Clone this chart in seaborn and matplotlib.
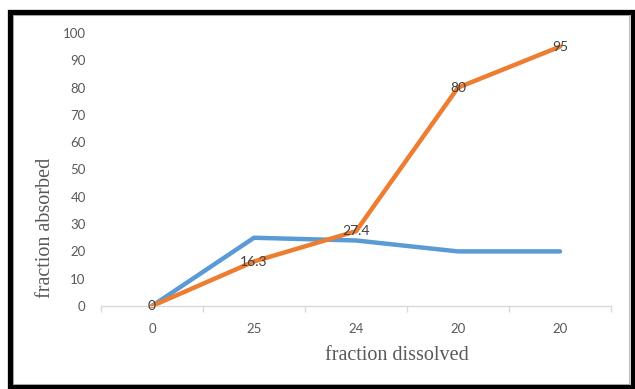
import matplotlib
matplotlib.use("Agg")
import matplotlib.pyplot as plt
from matplotlib.patches import Rectangle
import numpy as np
import pandas as pd
import seaborn as sns

# Category labels along the x axis (the dissolved fractions)
dissolved_labels = ["0", "25", "24", "20", "20"]
# Series values
series_a = [0, 25, 24, 20, 20]
series_b = [0, 16.3, 27.4, 80, 95]
yticks = [0, 10, 20, 30, 40, 50, 60, 70, 80, 90, 100]

blue = "#5B9BD5"
orange = "#ED7D31"
tick_color = "#595959"
label_color = "#404040"

sns.set_theme(style="white")
plt.rcParams["font.family"] = ["Lato", "DejaVu Sans"]

pos = np.arange(len(dissolved_labels))
df = pd.DataFrame({
    "pos": np.concatenate([pos, pos]),
    "value": series_a + series_b,
    "series": ["a"] * len(pos) + ["b"] * len(pos),
})

W, H = 635, 389
fig = plt.figure(figsize=(W / 100, H / 100), dpi=100)
fig.patch.set_facecolor("white")

ax = fig.add_axes([101 / W, (H - 306) / H, 510 / W, 273 / H])
sns.lineplot(data=df, x="pos", y="value", hue="series",
             palette={"a": blue, "b": orange}, linewidth=3.2,
             legend=False, ax=ax, clip_on=False)
for line in ax.get_lines():
    line.set_solid_capstyle("round")
    line.set_solid_joinstyle("round")
    line.set_clip_on(False)

# Data labels for the second series, centred on the points
for x, v in zip(pos, series_b):
    txt = f"{v:g}"
    ax.text(x, v, txt, ha="center", va="center", fontsize=10,
            color=label_color, zorder=5)

ax.set_xlim(-0.5, len(pos) - 0.5)
ax.set_ylim(0, 100)
ax.set_yticks(yticks)
ax.set_yticklabels([str(t) for t in yticks])
ax.set_xticks(pos)
ax.set_xticklabels(dissolved_labels)
ax.set_xticks(np.arange(-0.5, len(pos)), minor=True)

ax.tick_params(axis="y", length=0, pad=11, labelsize=9.5, labelcolor=tick_color)
ax.tick_params(axis="x", which="major", length=0, pad=12, labelsize=9.5,
               labelcolor=tick_color)
ax.tick_params(axis="x", which="minor", length=4.5, width=1, color="#D9D9D9",
               direction="out", bottom=True)

for side in ["top", "right", "left"]:
    ax.spines[side].set_visible(False)
ax.spines["bottom"].set_color("#D9D9D9")
ax.spines["bottom"].set_linewidth(1)
ax.grid(False)
ax.set_xlabel("")
ax.set_ylabel("")

fig.text(397 / W, 1 - 355 / H, "fraction dissolved", ha="center", va="center",
         family=["Liberation Serif"], fontsize=14.5, color=tick_color)
fig.text(46 / W, 1 - 228 / H, "fraction absorbed", ha="center", va="center",
         rotation=90, family=["Liberation Serif"], fontsize=14.5, color=tick_color)

# Frame around the whole chart
fig.patches.append(Rectangle((13 / W, 5 / H), 616 / W, 369 / H,
                             transform=fig.transFigure, fill=False,
                             edgecolor="#BFBFBF", linewidth=0.8))
fig.patches.append(Rectangle((9.5 / W, 2.5 / H), 623 / W, 374.5 / H,
                             transform=fig.transFigure, fill=False,
                             edgecolor="black", linewidth=3.8))

fig.savefig("out.png", dpi=100, facecolor="white")
